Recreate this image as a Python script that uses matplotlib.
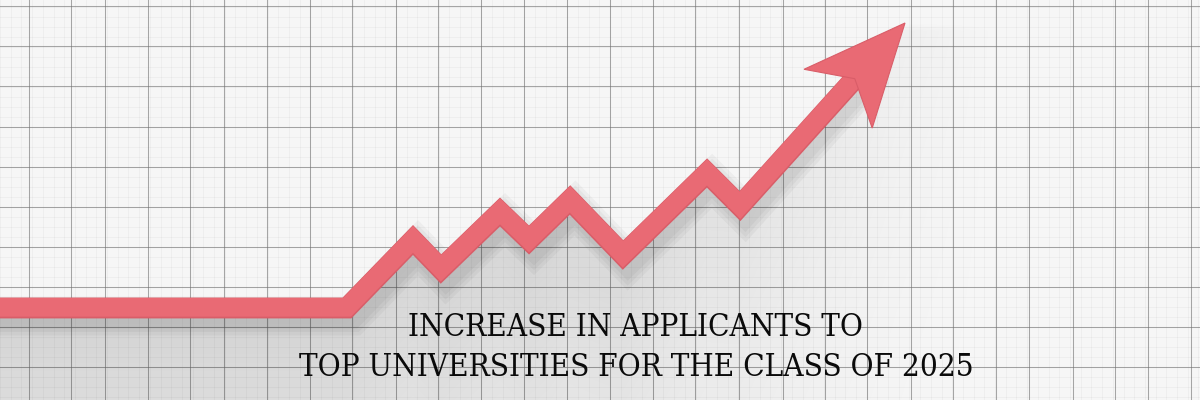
import numpy as np
import matplotlib.pyplot as plt
from matplotlib.patches import Polygon

# trend line (pixel-like units, y up)
x_pts = [0, 347, 413, 441, 500, 529, 570, 623, 707, 740, 905]
y_pts = [92, 92, 160, 131, 188, 160, 200, 145, 227, 194, 377]

title_lines = ['INCREASE IN APPLICANTS TO',
               'TOP UNIVERSITIES FOR THE CLASS OF 2025']

grid_x = [29, 71, 105, 148, 190, 224, 267, 310, 352, 396, 438, 481, 524,
          567, 610, 653, 695, 739, 783, 825, 867, 911, 953, 996, 1029,
          1073, 1115, 1148, 1191]
grid_y = [394, 354, 314, 273, 233, 193, 153, 113, 73, 33]

line_color = '#e96a74'
bg_color = '#f6f6f6'


def shadow_alpha(W=1200, H=400):
    xx, yy = np.meshgrid(np.arange(W) + 0.5, np.arange(H) + 0.5)
    line_y = np.interp(xx[0], x_pts, y_pts)
    depth = line_y[None, :] - yy
    a = np.where(depth > 0, 0.15 * np.exp(-depth / 260.0), 0.0)
    # soft edge right below the line
    a = a * np.clip(depth / 8.0, 0, 1)
    xfade = np.clip((1000 - xx) / 450.0, 0, 1)
    return a * xfade


fig = plt.figure(figsize=(12, 4), dpi=100)
ax = fig.add_axes([0, 0, 1, 1])
ax.set_xlim(0, 1200)
ax.set_ylim(0, 400)
ax.axis('off')
fig.patch.set_facecolor(bg_color)

# minor grid
for gx in np.arange(0, 1200, 10.7):
    ax.axvline(gx, color='black', alpha=0.045, lw=0.5, zorder=1)
for gy in np.arange(33 - 40, 400, 10):
    ax.axhline(gy, color='black', alpha=0.045, lw=0.5, zorder=1)
# major grid
for gx in grid_x:
    ax.axvline(gx, color='#707070', alpha=0.6, lw=0.75, zorder=2)
for gy in grid_y:
    ax.axhline(gy, color='#707070', alpha=0.6, lw=0.75, zorder=2)

# shadow under the curve
sh = np.zeros((400, 1200, 4))
sh[..., 3] = shadow_alpha()
ax.imshow(sh, extent=(0, 1200, 0, 400), origin='lower', zorder=3,
          interpolation='bilinear', aspect='auto')

# arrow head geometry from last segment
dx = x_pts[-1] - x_pts[-2]
dy = y_pts[-1] - y_pts[-2]
n = np.hypot(dx, dy)
d = np.array([dx, dy]) / n
p = np.array([-d[1], d[0]])
tip = np.array([x_pts[-1], y_pts[-1]])
head = [tip,
        tip - 102 * d + 44 * p,
        tip - 75 * d,
        tip - 100 * d - 46 * p]
shaft_end = tip - 72 * d
sx = x_pts[:-1] + [shaft_end[0]]
sy = y_pts[:-1] + [shaft_end[1]]

# blurred drop shadow of the line
for w in [28, 23, 18]:
    ax.plot(np.array(sx) + 5, np.array(sy) - 8, color='black',
            alpha=0.035, lw=w, solid_joinstyle='miter', zorder=4)

ax.plot(sx, sy, color='#d95d68', lw=15, solid_joinstyle='miter',
        solid_capstyle='butt', zorder=5)
ax.plot(np.array(sx), np.array(sy) + 0.7, color=line_color, lw=13.5,
        solid_joinstyle='miter', solid_capstyle='butt', zorder=6)
ax.add_patch(Polygon(head, closed=True, facecolor=line_color,
                     edgecolor='#d95d68', lw=0.8, zorder=7))

for i, t in enumerate(title_lines):
    ax.text(636, 73 - 41 * i, t, ha='center', va='center', fontsize=22.5,
            family='DejaVu Serif', fontstretch='condensed',
            color='#0a0a0a', zorder=8)

fig.savefig('out.png', dpi=100, facecolor=bg_color)
